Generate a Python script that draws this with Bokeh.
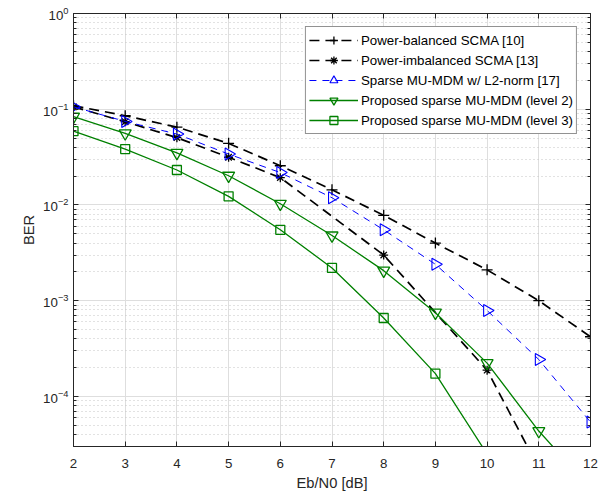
import numpy as np
from bokeh.plotting import figure
from bokeh.models import (LogAxis, LinearAxis, FixedTicker, Legend, LegendItem)
from bokeh.embed import file_html
from bokeh.resources import INLINE

# ---- data ----
snr = [2, 3, 4, 5, 6, 7, 8, 9, 10, 11, 12]
ber_power_balanced = [0.109, 0.0855, 0.065, 0.044, 0.0257, 0.0144, 0.0078, 0.0040, 0.0021, 0.0010, 0.00042]
snr_imbalanced = [2, 3, 4, 5, 6, 8, 10, 12]
ber_power_imbalanced = [0.106, 0.074, 0.0505, 0.0315, 0.0193, 0.0030, 0.000188, 1.7e-6]
ber_sparse_l2 = [0.106, 0.0746, 0.055, 0.034, 0.0218, 0.0119, 0.0055, 0.0024, 0.00079, 0.000243, 5.4e-5]
ber_level2 = [0.0835, 0.056, 0.035, 0.0202, 0.0103, 0.0048, 0.00206, 0.00075, 0.000223, 4.35e-5, 1.1e-5]
snr_level3 = [2, 3, 4, 5, 6, 7, 8, 9, 10]
ber_level3 = [0.059, 0.0384, 0.0232, 0.0123, 0.0055, 0.0022, 0.00066, 0.000173, 2.5e-5]

labels = ["Power-balanced SCMA [10]",
          "Power-imbalanced SCMA [13]",
          "Sparse MU-MDM w/ L2-norm [17]",
          "Proposed sparse MU-MDM (level 2)",
          "Proposed sparse MU-MDM (level 3)"]

x_ticks = [2, 3, 4, 5, 6, 7, 8, 9, 10, 11, 12]
y_ticks = [1e-4, 1e-3, 1e-2, 1e-1, 1e0]
y_minor = [m * 10.0 ** k for k in range(-5, 0) for m in range(2, 10) if 3e-5 <= m * 10.0 ** k <= 1]

FONT = "Liberation Sans"
AX = "#262626"

p = figure(frame_width=517, frame_height=433, y_axis_type="log",
           x_range=(2, 12), y_range=(3e-5, 1),
           output_backend="svg", toolbar_location=None,
           min_border_left=73, min_border_top=13, min_border_right=22, min_border_bottom=52,
           background_fill_color="white", border_fill_color="white",
           outline_line_color=AX, outline_line_width=1)

p.xaxis.ticker = FixedTicker(ticks=x_ticks)
p.yaxis.ticker = FixedTicker(ticks=y_ticks, minor_ticks=y_minor)
p.xgrid.ticker = FixedTicker(ticks=x_ticks)
p.ygrid.ticker = FixedTicker(ticks=y_ticks, minor_ticks=y_minor)

p.xgrid.grid_line_color = "#dedede"
p.ygrid.grid_line_color = "#dedede"
p.ygrid.minor_grid_line_color = "#c4c4c4"
p.ygrid.minor_grid_line_dash = "1 3"
p.ygrid.minor_grid_line_width = 1

def style_axis(ax, minor=True, labels=True):
    ax.axis_line_color = AX
    ax.major_tick_line_color = AX
    ax.minor_tick_line_color = AX if minor else None
    ax.major_tick_in = 5
    ax.major_tick_out = 0
    ax.minor_tick_in = 3
    ax.minor_tick_out = 0
    ax.major_label_text_font = FONT
    ax.axis_label_text_font = FONT
    ax.axis_label_text_font_style = "normal"
    ax.axis_label_text_color = AX
    if labels:
        ax.major_label_text_color = AX
        ax.major_label_text_font_size = "13.3px"
        ax.axis_label_text_font_size = "14.7px"
    else:
        ax.major_label_text_color = None
        ax.major_label_text_font_size = "1px"
        ax.major_label_standoff = 0

style_axis(p.xaxis[0], minor=False)
style_axis(p.yaxis[0], minor=True)
p.xaxis.axis_label = "Eb/N0 [dB]"
p.yaxis.axis_label = "BER"
p.xaxis.major_label_standoff = 12
p.xaxis.axis_label_standoff = 4
p.yaxis.major_label_standoff = 5
p.yaxis.axis_label_standoff = 3

top = LinearAxis(ticker=FixedTicker(ticks=x_ticks))
style_axis(top, minor=False, labels=False)
p.add_layout(top, "above")
right = LogAxis(ticker=FixedTicker(ticks=y_ticks, minor_ticks=y_minor))
style_axis(right, minor=True, labels=False)
p.add_layout(right, "right")

BLUE = "#0000ff"
GREEN = "#008000"

l1 = p.line(snr, ber_power_balanced, line_color="black", line_dash="10 6", line_width=1.7)
m1 = p.scatter(snr, ber_power_balanced, marker="cross", size=11, line_color="black", line_width=1.3)
l2 = p.line(snr_imbalanced, ber_power_imbalanced, line_color="black", line_dash="10 6", line_width=1.7)
m2 = p.scatter(snr_imbalanced, ber_power_imbalanced, marker="asterisk", size=9, line_color="black", line_width=1.3)
l3 = p.line(snr, ber_sparse_l2, line_color=BLUE, line_dash="7 6", line_width=1)
m3 = p.scatter(snr, ber_sparse_l2, marker="triangle", angle=-np.pi / 2, size=12,
               line_color=BLUE, fill_color=None, line_width=1.1)
l4 = p.line(snr, ber_level2, line_color=GREEN, line_width=1.3)
m4 = p.scatter(snr, ber_level2, marker="inverted_triangle", size=12,
               line_color=GREEN, fill_color=None, line_width=1.3)
l5 = p.line(snr_level3, ber_level3, line_color=GREEN, line_width=1.3)
m5 = p.scatter(snr_level3, ber_level3, marker="square", size=9,
               line_color=GREEN, fill_color=None, line_width=1.3)

legend = Legend(items=[LegendItem(label=labels[0], renderers=[l1, m1]),
                       LegendItem(label=labels[1], renderers=[l2, m2]),
                       LegendItem(label=labels[2], renderers=[l3, m3]),
                       LegendItem(label=labels[3], renderers=[l4, m4]),
                       LegendItem(label=labels[4], renderers=[l5, m5])],
                location="top_right")
legend.glyph_width = 49
legend.glyph_height = 20
legend.label_height = 20
legend.spacing = 0
legend.padding = 3
legend.label_standoff = 3
legend.margin = 13
legend.border_line_color = AX
legend.border_line_width = 1
legend.background_fill_color = "white"
legend.background_fill_alpha = 1
legend.label_text_font = FONT
legend.label_text_font_size = "13.3px"
legend.label_text_color = "black"
p.add_layout(legend)

open("out.html", "w").write(file_html(p, INLINE))
